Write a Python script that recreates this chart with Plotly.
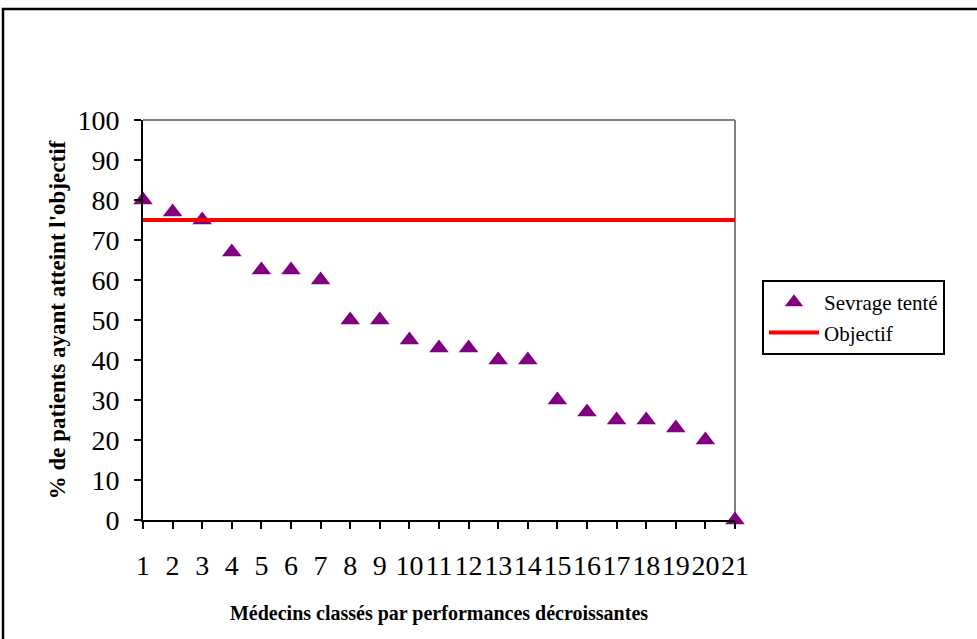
import plotly.graph_objects as go

medecins = list(range(1, 22))
sevrage = [80, 77, 75, 67, 62.5, 62.5, 60, 50, 50, 45, 43, 43, 40, 40, 30, 27, 25, 25, 23, 20, 0]
objectif = [75] * 21
tick_labels = [str(i) for i in medecins]

W, H = 977, 639
L, R, T, B = 143, 735, 120, 520
pw, ph = R - L, B - T

def px(x):
    return (x - L) / pw

def py(y):
    return (B - y) / ph

font = "Liberation Serif, Times New Roman, serif"

fig = go.Figure()
fig.add_trace(go.Scatter(
    x=medecins, y=sevrage, mode="markers", name="Sevrage tenté",
    marker=dict(symbol="triangle-up", size=17, color="#800080"),
    cliponaxis=False,
))
fig.add_trace(go.Scatter(
    x=medecins, y=objectif, mode="lines", name="Objectif",
    line=dict(color="#ff0000", width=4),
))

fig.update_layout(
    width=W, height=H,
    margin=dict(l=L, r=W - R, t=T, b=H - B),
    paper_bgcolor="white", plot_bgcolor="white",
    font=dict(family=font, color="black"),
    showlegend=True,
    legend=dict(
        x=px(762), y=py(280), xanchor="left", yanchor="top",
        bordercolor="black", borderwidth=2, bgcolor="white",
        font=dict(size=21, family=font),
        tracegroupgap=0, itemwidth=50,
    ),
    xaxis=dict(
        range=[1, 21], tickvals=medecins, ticktext=tick_labels,
        showgrid=False, zeroline=False,
        showline=True, linecolor="black", linewidth=2,
        ticks="outside", ticklen=7, tickwidth=2, tickcolor="black",
        tickfont=dict(size=28, family=font), tickangle=0,
        ticklabelstandoff=12,
        title=dict(text="<b>Médecins classés par performances décroissantes</b>",
                   font=dict(size=20, family=font), standoff=26),
    ),
    yaxis=dict(
        range=[0, 100], tickvals=list(range(0, 101, 10)),
        showgrid=False, zeroline=False,
        showline=True, linecolor="black", linewidth=2,
        ticks="outside", ticklen=7, tickwidth=2, tickcolor="black",
        tickfont=dict(size=28, family=font),
        ticklabelstandoff=9,
        title=dict(text="<b>% de patients ayant atteint l'objectif</b>",
                   font=dict(size=23, family=font), standoff=5),
    ),
    shapes=[
        dict(type="line", xref="paper", yref="paper", x0=0, x1=1, y0=1, y1=1,
             line=dict(color="#808080", width=2), layer="below"),
        dict(type="line", xref="paper", yref="paper", x0=1, x1=1, y0=0, y1=1,
             line=dict(color="#808080", width=2), layer="below"),
        dict(type="rect", xref="paper", yref="paper",
             x0=px(3), x1=px(1000), y0=py(9), y1=py(700),
             line=dict(color="black", width=2.5), fillcolor="rgba(0,0,0,0)"),
    ],
)

fig.write_html("out.html", config={"displayModeBar": False},
               post_script="document.body.style.margin='0';document.body.style.padding='0';")
